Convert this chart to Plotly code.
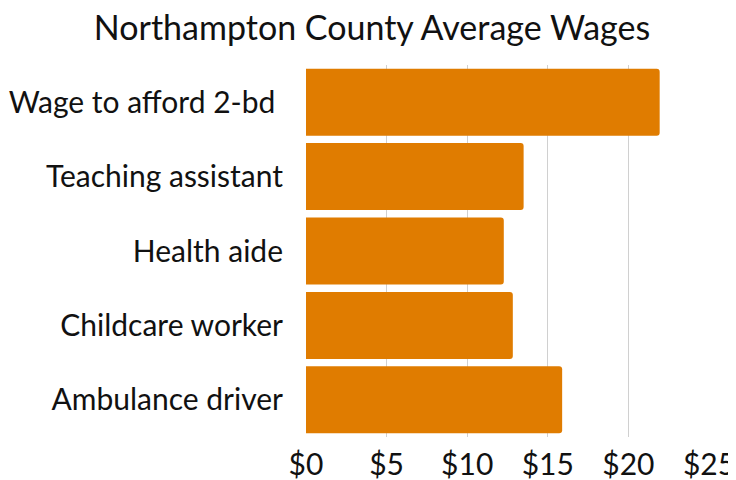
import plotly.graph_objects as go

categories = ["Ambulance driver", "Childcare worker", "Health aide", "Teaching assistant", "Wage to afford 2-bd "]
wages = [15.89, 12.83, 12.27, 13.5, 21.94]
tick_vals = [0, 5, 10, 15, 20, 25]
tick_text = ["$0", "$5", "$10", "$15", "$20", "$25"]

fig = go.Figure(go.Bar(
    x=wages, y=categories, orientation="h",
    marker=dict(color="#E07C00", line=dict(width=0)),
))
fig.update_layout(
    width=728, height=472,
    margin=dict(l=298, r=27, t=57, b=43),
    paper_bgcolor="white", plot_bgcolor="white",
    font=dict(family="Lato", color="#111111"),
    title=dict(text="Northampton County Average Wages", x=0.5, xanchor="center",
               y=0.958, yanchor="middle", font=dict(size=34, color="#111111")),
    bargap=0.1,
    barcornerradius=3,
    showlegend=False,
)
fig.update_xaxes(range=[0, 25], tickvals=tick_vals, ticktext=tick_text,
                 showgrid=True, gridcolor="#D0D0D0", gridwidth=1.3,
                 zeroline=False, showline=False, automargin=False,
                 ticklabeloverflow="allow",
                 ticks="outside", ticklen=1, tickcolor="rgba(0,0,0,0)",
                 tickfont=dict(size=30, color="#111111"))
fig.update_yaxes(showgrid=False, zeroline=False, showline=False, automargin=False,
                 ticks="outside", ticklen=16, tickcolor="rgba(0,0,0,0)",
                 tickfont=dict(size=30, color="#111111"))
fig.write_html("out.html")
